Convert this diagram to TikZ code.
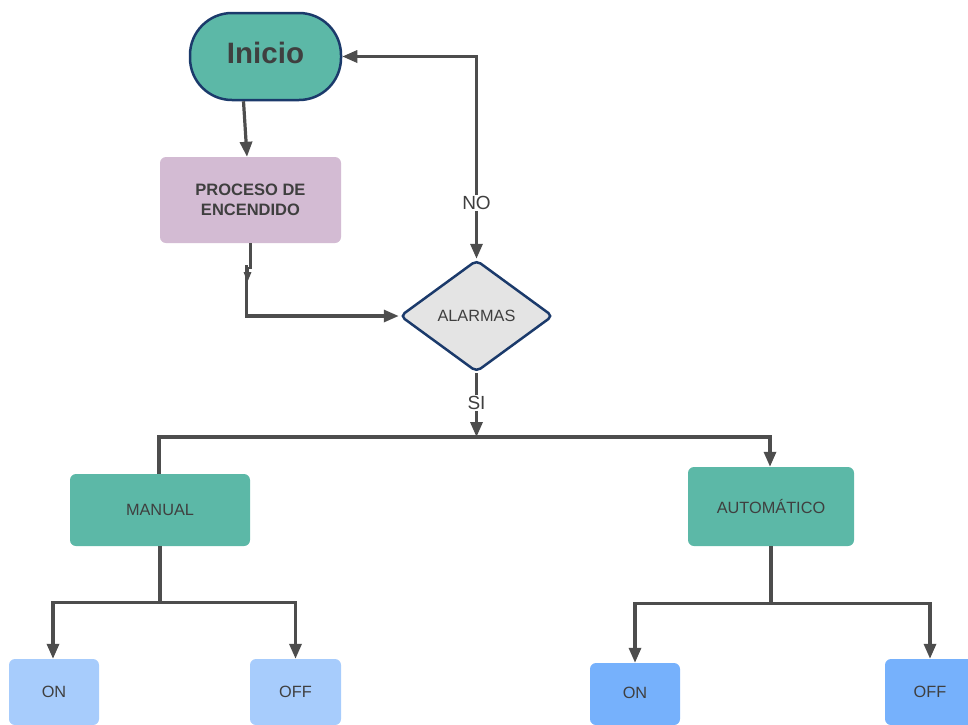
\documentclass[tikz,border=0pt]{standalone}
\usepackage{fontspec}
\setmainfont{Liberation Sans}
\usetikzlibrary{shapes.geometric,arrows.meta}
\definecolor{tealbox}{HTML}{5CB8A7}
\definecolor{purplebox}{HTML}{D3BBD3}
\definecolor{lightblue}{HTML}{A7CCFC}
\definecolor{midblue}{HTML}{76B1FC}
\definecolor{diagray}{HTML}{E4E4E4}
\definecolor{navy}{HTML}{1B3A6B}
\definecolor{linegray}{HTML}{4D4D4D}
\definecolor{txtgray}{HTML}{3F3F3F}
\begin{document}
\begin{tikzpicture}[x=1pt,y=-1pt,
  conn/.style={draw=linegray,line width=3.2pt},
  arr/.style={-{Triangle[length=15pt,width=12pt]}},
  boxnode/.style={rectangle,rounded corners=6pt,draw=none,text=txtgray,
    font=\fontsize{16.3}{20}\selectfont,inner sep=0pt},
  lbl/.style={fill=white,text=txtgray,font=\fontsize{19}{22}\selectfont,inner sep=1pt}
]
\useasboundingbox (0,0) rectangle (968,724);

% nodes
\node[boxnode,fill=tealbox,draw=navy,line width=2.5pt,rounded corners=42pt,
  minimum width=151pt,minimum height=87pt,text depth=8pt,
  font=\fontsize{29.5}{32}\selectfont\bfseries] (inicio) at (265.5,56.5) {Inicio};
\node[boxnode,fill=purplebox,minimum width=181pt,minimum height=86pt,align=center,
  font=\fontsize{16.5}{20}\selectfont\bfseries] (proceso) at (250.5,200) {PROCESO DE\\ENCENDIDO};
\node[diamond,fill=diagray,draw=navy,line width=2.5pt,rounded corners=5pt,
  minimum width=153pt,minimum height=112pt,inner sep=0pt,text=txtgray,
  font=\fontsize{16.3}{20}\selectfont] (alarmas) at (476.5,316) {ALARMAS};
\node[boxnode,fill=tealbox,minimum width=180pt,minimum height=72pt] (manual) at (160,510) {MANUAL};
\node[boxnode,fill=tealbox,minimum width=166pt,minimum height=79pt] (automatico) at (771,506.5) {AUTOMÁTICO};
\node[boxnode,fill=lightblue,minimum width=90pt,minimum height=66pt] (on1) at (54,692) {ON};
\node[boxnode,fill=lightblue,minimum width=91pt,minimum height=66pt] (off1) at (295.5,692) {OFF};
\node[boxnode,fill=midblue,minimum width=90pt,minimum height=62pt,text depth=3pt] (on2) at (635,694) {ON};
\node[boxnode,fill=midblue,minimum width=90pt,minimum height=66pt] (off2) at (930,692) {OFF};

\coordinate (bus) at (476.5,437);

% connectors
\draw[conn,arr] ([xshift=-22pt]inicio.south) -- ([xshift=-3.5pt]proceso.north);
\draw[conn] (proceso.south) -- ++(0,26);
\draw[conn,-{Triangle[length=10pt,width=7pt]}] ([xshift=-3pt,yshift=-24pt]proceso.south) -- ++(0,15);
\draw[conn,arr] ([xshift=-4pt,yshift=-22pt]proceso.south) |- (alarmas.west);
\draw[conn,{Triangle[length=15pt,width=12pt]}-{Triangle[length=15pt,width=12pt]}]
  (alarmas.north) -- (alarmas.north |- inicio.east) -- (inicio.east);
\node[lbl] (nolbl) at (476.5,203) {NO};
\draw[conn,arr] (alarmas.south) -- (bus);
\node[lbl] (silbl) at (476.5,403) {SI};
\draw[conn,arr] ([xshift=-1pt]manual.north) |- ([xshift=-1pt]automatico.north |- bus) -- ([xshift=-1pt]automatico.north);

\draw[conn] (manual.south) -- ++(0,56) coordinate (m1);
\draw[conn,arr] (m1) -| ([xshift=-1pt]on1.north);
\draw[conn,arr] (m1) -| (off1.north);
\draw[conn] (automatico.south) -- ++(0,57) coordinate (a1);
\draw[conn,arr] (a1) -| (on2.north);
\draw[conn,arr] (a1) -| (off2.north);
\end{tikzpicture}
\end{document}
